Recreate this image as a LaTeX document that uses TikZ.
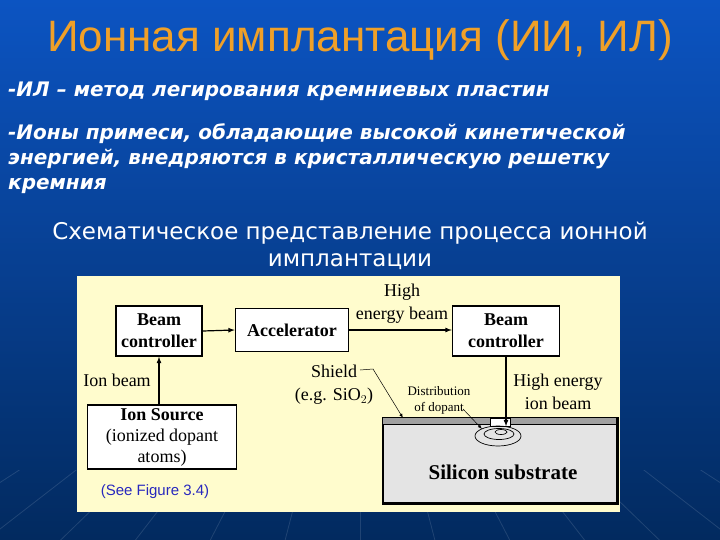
\documentclass[tikz,border=0pt]{standalone}
\usepackage{fontspec}
\setmainfont{Liberation Serif}
\newfontfamily\titlefont{Liberation Sans}
\newfontfamily\bodyfont{DejaVu Sans}
\usepackage{tikz}
\usetikzlibrary{positioning}

\definecolor{slideblue}{RGB}{12,84,194}
\definecolor{slidemid}{RGB}{10,68,165}
\definecolor{slidedark}{RGB}{2,42,95}
\definecolor{titleorange}{RGB}{240,160,40}
\definecolor{panelyellow}{RGB}{255,252,205}
\definecolor{siliconfill}{RGB}{228,228,228}
\definecolor{shieldfill}{RGB}{160,160,160}
\definecolor{refblue}{RGB}{40,40,190}

\begin{document}
\begin{tikzpicture}[x=1pt,y=-1pt,
	box/.style={draw=black,line width=1.5pt,fill=white,inner sep=0pt,align=center,
		font=\fontsize{18}{22}\selectfont\bfseries},
	lbl/.style={align=center,font=\fontsize{18}{23}\selectfont},
	arr/.style={-latex,line width=1.2pt}]
	
	% slide background
	\shade[top color=slideblue,middle color=slidemid,bottom color=slidedark] (0,0) rectangle (720,540);
	\useasboundingbox (0,0) rectangle (720,540);
	\begin{scope}
		\clip (0,470) rectangle (720,540);
		\foreach \bx in {-200,-120,-40,40,120,200,280,360,440,520,600,680,760,840,920}
			\draw[white,opacity=0.12,line width=0.8pt] (360,250) -- (\bx,560);
	\end{scope}
	
	\node[text=titleorange,font=\titlefont\fontsize{44}{48}\selectfont] (title) at (360,40)
		{Ионная имплантация (ИИ, ИЛ)};
	\node[text=white,anchor=base west,align=left,inner sep=0pt,
		font=\bodyfont\fontsize{20}{24}\selectfont\bfseries\itshape] (intro) at (8,97)
		{-ИЛ – метод легирования кремниевых пластин};
	\node[text=white,anchor=north west,align=left,inner sep=0pt,
		font=\bodyfont\fontsize{20}{25}\selectfont\bfseries\itshape] (ions) at (8,123)
		{-Ионы примеси, обладающие высокой кинетической\\
		 энергией, внедряются в кристаллическую решетку\\
		 кремния};
	\node[text=white,align=center,font=\bodyfont\fontsize{23}{27}\selectfont] (caption) at (350,246)
		{Схематическое представление процесса ионной\\имплантации};
	
	% diagram panel
	\fill[panelyellow] (77,276) rectangle (620,512);
	
	\node[box,minimum width=86pt,minimum height=50pt] (bc1) at (159,331) {Beam\\controller};
	\node[box,minimum width=113pt,minimum height=43pt] (acc) at (292,330) {Accelerator};
	\node[box,minimum width=107pt,minimum height=50pt] (bc2) at (506,331) {Beam\\controller};
	\node[box,minimum width=149pt,minimum height=64pt,font=\fontsize{18}{21}\selectfont] (src) at (162,437)
		{\textbf{Ion Source}\\(ionized dopant\\atoms)};
	
	% substrate with shield and dopant
	\node[draw=black,line width=1.5pt,fill=siliconfill,minimum width=234pt,minimum height=85pt,
		inner sep=0pt] (sub) at (500,460.5) {};
	\fill[shieldfill] (sub.north west) rectangle ++(234,7);
	\draw[line width=1.5pt] (sub.north west) rectangle (sub.south east);
	\draw[line width=0.6pt] (sub.north west) ++(0,7) -- ++(234,0);
	\node[draw=black,line width=0.5pt,fill=white,minimum width=20pt,minimum height=8pt,inner sep=0pt]
		(mask) at (500,422) {};
	\draw[line width=0.7pt] (498,436) ellipse (23 and 10);
	\draw[line width=0.7pt] (499,434) ellipse (15 and 5.5);
	\draw[line width=0.7pt] (501,432) ellipse (6 and 2.5);
	\node[font=\fontsize{21}{22}\selectfont\bfseries] (silicon) at (503,472) {Silicon substrate};
	
	\draw[arr] (src.north -| bc1) -- (bc1.south);
	\draw[arr] (bc1.east) -- (acc.west);
	\draw[arr] (acc.east) -- (acc.east -| bc2.west);
	\draw[arr] (bc2.south) -- (mask.south -| bc2);
	
	\node[lbl] (ionbeam) at (117,380) {Ion beam};
	\node[lbl] (highbeam) at (402,304) {High\\energy beam};
	\node[lbl] (highion) at (558,392) {High energy\\ion beam};
	\node[lbl] (shield) at (334,385) {Shield\\(e.g. SiO$_2$)};
	\node[align=center,font=\fontsize{13}{16}\selectfont] (dist) at (439,400) {Distribution\\of dopant};
	\node[text=refblue,font=\titlefont\fontsize{15}{16}\selectfont] (seefig) at (155,492) {(See Figure 3.4)};
	
	\coordinate (shieldstart) at (360,370);
	\coordinate (shieldend) at (373,369);
	\coordinate (shieldtip) at (403,418);
	\coordinate (diststart) at (463,409);
	\coordinate (distend) at (482,429);
	\draw[-latex,line width=0.5pt] (shieldstart) -- (shieldend) -- (shieldtip);
	\draw[-latex,line width=0.5pt] (diststart) -- (distend);
	
\end{tikzpicture}
\end{document}
